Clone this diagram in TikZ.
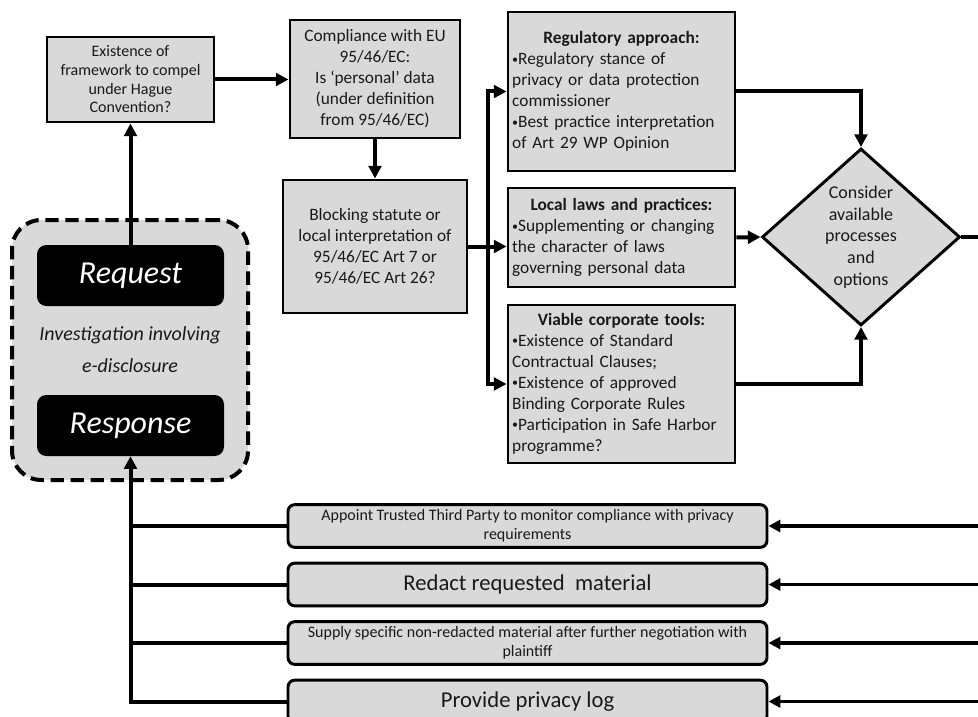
\documentclass[tikz,border=0pt]{standalone}
\usepackage{fontspec}
\setmainfont{Carlito}
\usetikzlibrary{arrows.meta,shapes.geometric}

\newcommand{\boxtitle}[1]{\mbox{}\hfill\textbf{#1}\hfill\mbox{}}
\newcommand{\bul}{{\fontsize{9}{9}\selectfont\raisebox{1.2pt}{•}}}

\tikzset{
    qbox/.style={draw, line width=2.2pt, fill=black!15, text=black!90, align=center, inner sep=2pt},
    listbox/.style={qbox, align=left, text width=164pt, inner xsep=3pt, minimum width=170.25pt, font=\fontsize{13}{15.75}\selectfont},
    darkbox/.style={fill=black, rounded corners=7pt, text=white, minimum width=140.25pt, minimum height=45.75pt, font=\fontsize{24}{28}\selectfont\itshape},
    optbox/.style={qbox, rounded corners=5pt, minimum width=359.25pt, minimum height=32pt, inner sep=1pt},
    flow/.style={line width=3pt, -{Triangle[length=9.5pt,width=9.5pt]}},
    joint/.style={line width=3pt},
    back/.style={line width=2.5pt, -{Triangle[length=9pt,width=9pt]}}
}

\begin{document}
\begin{tikzpicture}[x=0.75pt, y=-0.75pt]
    \clip (0,0) rectangle (978,717);

    \node[qbox, minimum width=125.25pt, minimum height=63.75pt, font=\fontsize{12}{14}\selectfont] (exist) at (130.5,79.5) {Existence of\\framework to compel\\under Hague\\Convention?};
    \node[qbox, minimum width=127.5pt, minimum height=88.5pt, font=\fontsize{13}{15.75}\selectfont] (comply) at (375,79) {Compliance with EU\\95/46/EC:\\Is `personal' data\\(under definition\\from 95/46/EC)};
    \node[qbox, minimum width=138pt, minimum height=99.75pt, font=\fontsize{13}{15.75}\selectfont] (block) at (375,246.5) {Blocking statute or\\local interpretation of\\95/46/EC Art 7 or\\95/46/EC Art 26?};

    \node[listbox, minimum height=119.25pt] (reg) at (621.5,91.5) {\boxtitle{Regulatory approach:}\\
        \bul Regulatory stance of\\
        privacy or data protection\\
        commissioner\\
        \bul Best practice interpretation\\
        of Art 29 WP Opinion};
    \node[listbox, minimum height=74.25pt] (local) at (621.5,237.5) {\boxtitle{Local laws and practices:}\\
        \bul Supplementing or changing\\
        the character of laws\\
        governing personal data};
    \node[listbox, minimum height=118.5pt] (corp) at (621.5,384) {\boxtitle{Viable corporate tools:}\\
        \bul Existence of Standard\\
        Contractual Clauses;\\
        \bul Existence of approved\\
        Binding Corporate Rules\\
        \bul Participation in Safe Harbor\\
        programme?};

    \node[qbox, shape=diamond, inner sep=0pt, minimum width=148.5pt, minimum height=132.75pt, font=\fontsize{13.5}{16.3}\selectfont] (choose) at (861,237) {Consider\\available\\processes\\and\\options};

    \node[draw, fill=black!15, line width=3pt, dash pattern=on 10pt off 5pt, rounded corners=22pt, minimum width=177pt, minimum height=195pt, align=center, text=black!90, font=\fontsize{15}{24}\selectfont\itshape] (inv) at (130,350) {Investigation involving\\e-disclosure};
    \node[darkbox] (req) at (130.5,275.5) {Request};
    \node[darkbox] (resp) at (130.5,425.5) {Response};

    \node[optbox, font=\fontsize{12}{14}\selectfont] (opt1) at (527.5,526) {Appoint Trusted Third Party to monitor compliance with privacy\\requirements};
    \node[optbox, font=\fontsize{17}{20}\selectfont] (opt2) at (527.5,584.5) {Redact requested~ material};
    \node[optbox, font=\fontsize{12}{14}\selectfont] (opt3) at (527.5,643) {Supply specific non-redacted material after further negotiation with\\plaintiff};
    \node[optbox, font=\fontsize{17}{20}\selectfont] (opt4) at (527.5,701.5) {Provide privacy log};

    \coordinate (split) at (488,246.5);
    \coordinate (exit) at (978,237);
    \coordinate (in1) at (978,526);
    \coordinate (in2) at (978,584.5);
    \coordinate (in3) at (978,643);
    \coordinate (in4) at (978,701.5);

    \draw[flow] (req.north) -- (exist.south);
    \draw[flow] (exist.east) -- (exist.east -| comply.west);
    \draw[flow] (comply.south) -- (block.north);
    \draw[joint] (block.east) -- (split);
    \draw[flow] (split) -- (split -| local.west);
    \draw[flow] (split) |- (reg.west);
    \draw[flow] (split) |- (corp.west);
    \draw[flow] (reg.east) -| (choose.north);
    \draw[flow] (local.east) -- (choose.west);
    \draw[flow] (corp.east) -| (choose.south);
    \draw[joint] (choose.east) -- (exit);

    \draw[back] (in1) -- (opt1.east);
    \draw[back] (in2) -- (opt2.east);
    \draw[back] (in3) -- (opt3.east);
    \draw[back] (in4) -- (opt4.east);
    \draw[joint] (opt1.west) -- (opt1.west -| resp.south);
    \draw[joint] (opt2.west) -- (opt2.west -| resp.south);
    \draw[joint] (opt3.west) -- (opt3.west -| resp.south);
    \draw[flow] (opt4.west) -| (resp.south);
\end{tikzpicture}
\end{document}
